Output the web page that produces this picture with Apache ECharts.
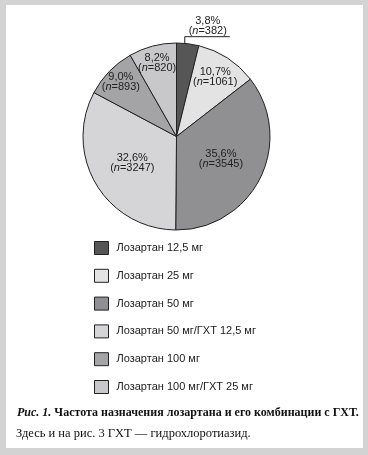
<!DOCTYPE html>
<html><head><meta charset="utf-8">
<script src="https://cdn.jsdelivr.net/npm/echarts@6/dist/echarts.min.js"></script>
<style>html,body{margin:0;padding:0;background:#fff}#c{width:368px;height:455px}</style>
</head><body><div id="c"></div>
<script>
const categories = ['Лозартан 12,5 мг', 'Лозартан 25 мг', 'Лозартан 50 мг', 'Лозартан 50 мг/ГХТ 12,5 мг', 'Лозартан 100 мг', 'Лозартан 100 мг/ГХТ 25 мг'];
const counts = [382, 1061, 3545, 3247, 893, 820];
const percents = ['3,8', '10,7', '35,6', '32,6', '9,0', '8,2'];
const captionTitle = 'Частота назначения лозартана и его комбинации с ГХТ.';
const captionNote = 'Здесь и на рис. 3 ГХТ — гидрохлоротиазид.';

// styles
const colors = ['#565656', '#e3e3e3', '#909092', '#d5d5d7', '#a4a4a6', '#c8c8ca'];
const labelRadius = [null, 0.76, 0.53, 0.55, 0.83, 0.81];
const CX = 176.5, CY = 136.5, R = 93.5;
const frame = '#d3d3d3';
const SANS = 'Liberation Sans, Arial, sans-serif';
const SERIF = 'Liberation Serif, Times New Roman, serif';

const total = counts.reduce((a, b) => a + b, 0);
const data = categories.map((name, i) => {
  const item = { name, value: counts[i], itemStyle: { color: colors[i] } };
  if (i === 0) {
    item.label = { position: 'outside' };
    item.labelLine = { show: true, length: 7, length2: 40, lineStyle: { color: '#222', width: 1 } };
  }
  return item;
});

const chart = echarts.init(document.getElementById('c'), null, { renderer: 'canvas' });
chart.setOption({
  animation: false,
  backgroundColor: '#fff',
  color: colors,
  graphic: [
    { type: 'rect', shape: { x: 0, y: 0, width: 368, height: 5 }, style: { fill: frame }, silent: true },
    { type: 'rect', shape: { x: 0, y: 0, width: 6, height: 455 }, style: { fill: frame }, silent: true },
    { type: 'rect', shape: { x: 363, y: 0, width: 5, height: 455 }, style: { fill: frame }, silent: true },
    { type: 'rect', shape: { x: 0, y: 448, width: 368, height: 7 }, style: { fill: frame }, silent: true }
  ],
  title: [
    {
      text: '{bi|Рис. 1.} ' + captionTitle,
      left: 12, top: 402,
      textStyle: {
        fontFamily: SERIF, fontSize: 12, fontWeight: 'bold', color: '#111',
        rich: { bi: { fontFamily: SERIF, fontSize: 12, fontWeight: 'bold', fontStyle: 'italic', color: '#111' } }
      }
    },
    {
      text: captionNote,
      left: 11, top: 422,
      textStyle: { fontFamily: SERIF, fontSize: 12.5, fontWeight: 'normal', color: '#111' }
    }
  ],
  legend: {
    orient: 'vertical',
    left: 89, top: 236,
    itemWidth: 14, itemHeight: 13, itemGap: 13.8,
    icon: 'rect',
    selectedMode: false,
    data: categories,
    itemStyle: { borderColor: '#222', borderWidth: 1 },
    textStyle: { fontFamily: SANS, fontSize: 11, color: '#222', padding: [0, 0, 0, 3] }
  },
  series: [{
    type: 'pie',
    center: [CX, CY],
    radius: R,
    startAngle: 90,
    clockwise: true,
    silent: true,
    itemStyle: { borderColor: '#222', borderWidth: 1 },
    label: {
      show: true,
      position: 'inside',
      fontFamily: SANS, fontSize: 11, color: '#222', lineHeight: 10,
      formatter: p => percents[p.dataIndex] + '%\n({i|n}=' + counts[p.dataIndex] + ')',
      rich: { i: { fontFamily: SANS, fontSize: 11, fontStyle: 'italic', color: '#222', lineHeight: 10 } }
    },
    labelLine: { show: false },
    labelLayout: function (params) {
      const i = params.dataIndex;
      if (i === 0) {
        const pts = params.labelLinePoints;
        let x0, y0;
        if (pts && pts[0]) { x0 = pts[0][0] - 3; y0 = pts[0][1]; }
        else {
          const a = counts[0] / 2 / total * 2 * Math.PI;
          x0 = CX + R * Math.sin(a); y0 = CY - R * Math.cos(a);
        }
        return {
          x: x0 + 23, y: y0 - 7.5, align: 'center', verticalAlign: 'bottom',
          labelLinePoints: [[x0, y0], [x0, y0 - 7], [x0 + 45, y0 - 7]]
        };
      }
      let start = 0;
      for (let k = 0; k < i; k++) start += counts[k];
      const a = (start + counts[i] / 2) / total * 2 * Math.PI;
      const rr = labelRadius[i] * R;
      return { x: CX + rr * Math.sin(a), y: CY - rr * Math.cos(a), align: 'center', verticalAlign: 'middle' };
    },
    data: data
  }]
});
</script>
</body></html>
